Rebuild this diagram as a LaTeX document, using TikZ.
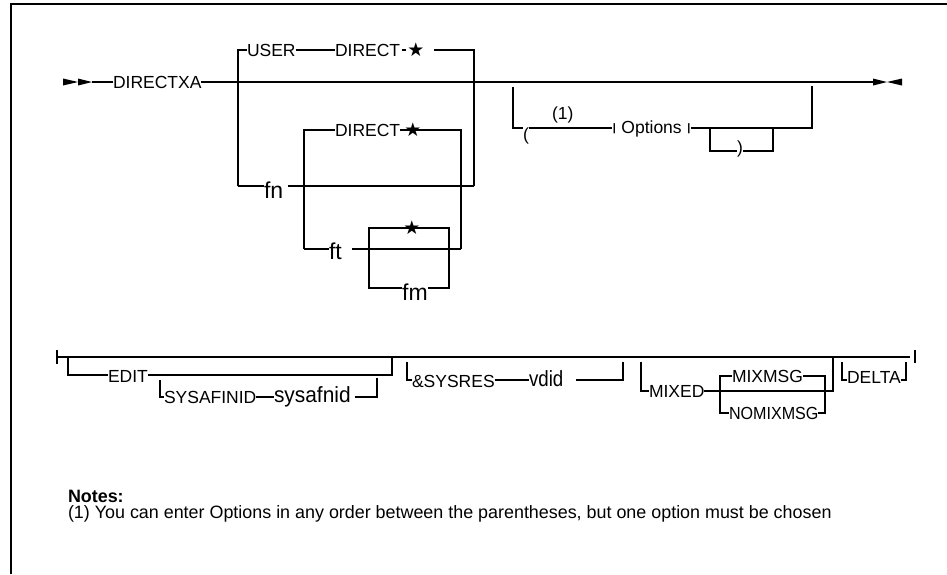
\documentclass[tikz,border=0pt]{standalone}
\usepackage{fontspec}
\setmainfont{Liberation Sans}
\newfontfamily\symfont{DejaVu Sans}
\newcommand{\shortbar}{\raisebox{2pt}{\scalebox{1}[0.62]{|}}}
\begin{document}
\begin{tikzpicture}[x=1pt,y=-1pt,line width=1.2pt,
  lbl/.style={font=\fontsize{17.5}{19}\selectfont,inner sep=0pt,outer sep=0pt,anchor=base west},
  var/.style={font=\fontsize{23}{25}\selectfont,inner sep=0pt,outer sep=0pt,anchor=base west},
  varmid/.style={font=\fontsize{22}{24}\selectfont,inner sep=0pt,outer sep=0pt,anchor=base west},
  starsym/.style={font=\symfont\fontsize{19}{20}\selectfont,inner sep=0pt,outer sep=0pt},
  notes/.style={font=\fontsize{17.9}{19}\selectfont,inner sep=0pt,outer sep=0pt,anchor=base west},
  tip/.style={fill=black,draw=none}]
\useasboundingbox (0,0) rectangle (947,574);
% frame
\draw[line width=1.4pt] (11,574) -- (11,4) -- (947,4);

% ===== first diagram =====
\coordinate (s0) at (63,82);
\coordinate (a1) at (92,82);
\coordinate (e0) at (873,82);
\fill[tip] (63,78.5) -- (78,82) -- (63,85.5) -- cycle;
\fill[tip] (78,78.5) -- (92,82) -- (78,85.5) -- cycle;
\fill[tip] (873,78.5) -- (887,82) -- (873,85.5) -- cycle;
\fill[tip] (902,78.5) -- (887,82) -- (902,85.5) -- cycle;
\node[lbl] (dxa) at (113,88.5) {DIRECTXA};
\draw (a1) -- (dxa.west |- s0);
\draw (dxa.east |- s0) -- (e0);

% USER branch
\coordinate (u0) at (238,50);
\coordinate (u1) at (474,50);
\coordinate (u2) at (474,186);
\coordinate (fnl) at (238,186);
\node[lbl] (user) at (247,56.5) {USER};
\node[lbl] (dir1) at (335,56.5) {DIRECT};
\node[starsym] (st1) at (416,50) {★};
\draw (fnl) -- (u0) -- (user.west |- u0);
\draw (user.east |- u0) -- (dir1.west |- u0);
\draw ([xshift=1.5pt]dir1.east |- u0) -- ([xshift=-1pt]st1.west |- u0);
\draw ([xshift=9pt]st1.east |- u0) -- (u1) -- (u2);
\node[var] (fn) at (264,198) {fn};
\draw (fnl) -- (fn.west |- fnl);
\draw ([xshift=5pt]fn.east |- fnl) -- (u2);

% inner DIRECT / ft
\coordinate (d0) at (304,130);
\coordinate (d1) at (461,130);
\coordinate (t0) at (304,249);
\coordinate (t1) at (461,249);
\node[lbl] (dir2) at (335,136.5) {DIRECT};
\draw (t0) -- (d0) -- (dir2.west |- d0);
\draw (dir2.east |- d0) -- (d1) -- (t1);
\node[starsym] (st2) at (413,130) {★};
\node[var] (ft) at (329,259) {ft};
\draw (t0) -- (ft.west |- t0);
\draw ([xshift=10pt]ft.east |- t0) -- (t1);

% star / fm box
\coordinate (b0) at (369,228);
\coordinate (b1) at (449,228);
\coordinate (b2) at (449,288);
\coordinate (b3) at (369,288);
\node[var,anchor=base] (fm) at (415,300.5) {fm};
\draw (fm.west |- b3) -- (b3) -- (b0) -- (b1) -- (b2) -- (fm.east |- b2);
\node[starsym] (st3) at (412,228) {★};

% Options group
\coordinate (o0) at (513,87);
\coordinate (o1) at (513,128);
\coordinate (o2) at (812,128);
\coordinate (o3) at (812,86);
\node[lbl] (lp) at (523,140) {(};
\node[lbl] (n1) at (552,119) {(1)};
\node[lbl] (opt) at (612,133.5) {\shortbar{} Options \shortbar};
\draw (o0) -- (o1) -- (lp.west |- o1);
\draw (lp.east |- o1) -- (opt.west |- o1);
\draw (opt.east |- o1) -- (o2) -- (o3);
\coordinate (p0) at (710,128);
\coordinate (p1) at (710,151);
\coordinate (p2) at (773,151);
\coordinate (p3) at (773,128);
\node[lbl] (rp) at (737,153.5) {)};
\draw (p0) -- (p1) -- (rp.west |- p1);
\draw (rp.east |- p1) -- (p2) -- (p3);

% ===== second diagram =====
\coordinate (m0) at (57,357);
\coordinate (m1) at (910,357);
\draw[line width=1.6pt] (57,350) -- (57,364);
\draw (m0) -- (m1);
\draw[line width=1.6pt] (915,350) -- (915,363);

% EDIT
\coordinate (ed0) at (68,357);
\coordinate (ed1) at (68,375);
\coordinate (ed2) at (392,375);
\coordinate (ed3) at (392,357);
\node[lbl] (edit) at (108,382) {EDIT};
\draw (ed0) -- (ed1) -- (edit.west |- ed1);
\draw (edit.east |- ed1) -- (ed2) -- (ed3);

% SYSAFINID
\coordinate (sy0) at (160,380);
\coordinate (sy1) at (160,397);
\coordinate (sy2) at (377,397);
\coordinate (sy3) at (377,378);
\node[lbl] (sysaf) at (164,403.5) {SYSAFINID};
\node[varmid] (sysv) at (274,402.5) {\scalebox{0.95}[1]{sysafnid}};
\draw (sy0) -- (sy1) -- (sysaf.west |- sy1);
\draw (sysaf.east |- sy1) -- (sysv.west |- sy1);
\draw ([xshift=4pt]sysv.east |- sy1) -- (sy2) -- (sy3);

% &SYSRES
\coordinate (sr0) at (407,362);
\coordinate (sr1) at (407,380);
\coordinate (sr2) at (623,380);
\coordinate (sr3) at (623,362);
\node[lbl] (sysres) at (412,387) {\&SYSRES};
\node[varmid] (vdid) at (529,386) {\scalebox{0.85}[1]{vdid}};
\draw (sr0) -- (sr1) -- (sysres.west |- sr1);
\draw (sysres.east |- sr1) -- (vdid.west |- sr1);
\draw ([xshift=13pt]vdid.east |- sr1) -- (sr2) -- (sr3);

% MIXED
\coordinate (mx0) at (641,362);
\coordinate (mx1) at (641,391);
\coordinate (mx2) at (833,391);
\coordinate (mx3) at (833,357);
\node[lbl] (mixed) at (649,397.5) {MIXED};
\draw (mx0) -- (mx1) -- (mixed.west |- mx1);
\draw (mixed.east |- mx1) -- (mx2) -- (mx3);
\coordinate (c0) at (720,376);
\coordinate (c1) at (720,413);
\coordinate (c2) at (825,376);
\coordinate (c3) at (825,413);
\node[lbl] (mixmsg) at (732,382.5) {MIXMSG};
\node[lbl] (nomix) at (729,419) {\scalebox{0.92}[1]{NOMIXMSG}};
\draw (mixmsg.west |- c0) -- (c0) -- (c1) -- (nomix.west |- c1);
\draw (mixmsg.east |- c0) -- (c2) -- (c3) -- (nomix.east |- c3);

% DELTA
\coordinate (dl0) at (842,362);
\coordinate (dl1) at (842,380);
\coordinate (dl2) at (906,380);
\coordinate (dl3) at (906,362);
\node[lbl] (delta) at (847,383.5) {DELTA};
\draw (dl0) -- (dl1) -- (delta.west |- dl1);
\draw (delta.east |- dl1) -- (dl2) -- (dl3);

% Notes
\node[notes,font=\fontsize{17.9}{19}\selectfont\bfseries] (notes) at (68,502) {Notes:};
\node[notes] (note1) at (68,518.5) {(1) You can enter Options in any order between the parentheses, but one option must be chosen};
\end{tikzpicture}
\end{document}
